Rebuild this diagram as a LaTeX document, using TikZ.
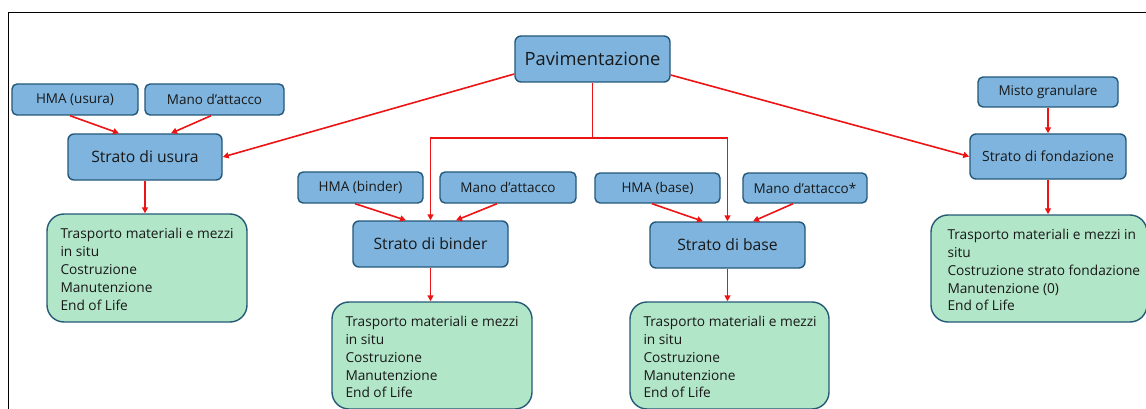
\documentclass[tikz,border=0pt]{standalone}
\usepackage{fontspec}
\setmainfont{Open Sans}
\usetikzlibrary{arrows.meta,calc}
\definecolor{bfill}{RGB}{126,180,222}
\definecolor{bline}{RGB}{36,88,122}
\definecolor{gfill}{RGB}{178,230,200}
\definecolor{gline}{RGB}{36,90,118}
\definecolor{arrred}{RGB}{236,20,20}
\definecolor{txt}{RGB}{25,25,25}
\tikzset{
  bigbox/.style={draw=bline, fill=bfill, line width=1.4pt, rounded corners=6pt, inner sep=0pt, text=txt, font=\fontsize{15.7}{18}\selectfont},
  smallbox/.style={draw=bline, fill=bfill, line width=1.4pt, rounded corners=5pt, inner sep=0pt, text=txt, font=\fontsize{13.5}{16}\selectfont},
  greenbox/.style={draw=gline, fill=gfill, line width=1.4pt, rounded corners=17pt, inner sep=0pt},
  gtext/.style={inner sep=0pt, text=txt, align=left, anchor=west, font=\fontsize{13.7}{17.9}\selectfont},
  arr/.style={draw=arrred, line width=1.6pt, -{Triangle[length=6pt,width=6pt]}},
  lin/.style={draw=arrred, line width=1.6pt}
}
\begin{document}
\begin{tikzpicture}[x=1pt,y=-1pt]
\useasboundingbox (0,0) rectangle (1146,409);
\draw[line width=1.6pt, black] (8.3,412) -- (8.3,12.5) -- (1150,12.5);
% top
\node[bigbox, minimum width=155, minimum height=46, font=\fontsize{18.3}{21}\selectfont] (pav) at (592.5,59) {Pavimentazione};
% usura
\node[smallbox, minimum width=126, minimum height=31] (hmaU) at (75,99.5) {HMA (usura)};
\node[smallbox, minimum width=139, minimum height=31] (manoU) at (214.5,99.5) {Mano d’attacco};
\node[bigbox, minimum width=154, minimum height=46] (su) at (145,157) {Strato di usura};
\node[greenbox, minimum width=200, minimum height=108] (gU) at (147,268) {};
\node[gtext] (tU) at ([xshift=14pt,yshift=-1.5pt]gU.west) {Trasporto materiali e mezzi\\in situ\\Costruzione\\Manutenzione\\End of Life};
% binder
\node[smallbox, minimum width=125, minimum height=31] (hmaB) at (360.5,187.5) {HMA (binder)};
\node[smallbox, minimum width=136, minimum height=31] (manoB) at (508,187.5) {Mano d’attacco};
\node[bigbox, minimum width=155, minimum height=46] (sb) at (430.5,244) {Strato di binder};
\node[greenbox, minimum width=200, minimum height=107] (gB) at (432,355.5) {};
\node[gtext] (tB) at ([xshift=14pt,yshift=-1.5pt]gB.west) {Trasporto materiali e mezzi\\in situ\\Costruzione\\Manutenzione\\End of Life};
% base
\node[smallbox, minimum width=125, minimum height=30] (hmaBa) at (657.5,188) {HMA (base)};
\node[smallbox, minimum width=124, minimum height=30] (manoBa) at (805,188) {Mano d’attacco*};
\node[bigbox, minimum width=155, minimum height=46] (sba) at (727.5,245) {Strato di base};
\node[greenbox, minimum width=199, minimum height=107] (gBa) at (729.5,355.5) {};
\node[gtext] (tBa) at ([xshift=14pt,yshift=-1.5pt]gBa.west) {Trasporto materiali e mezzi\\in situ\\Costruzione\\Manutenzione\\End of Life};
% fondazione
\node[smallbox, minimum width=140, minimum height=30] (misto) at (1048,92) {Misto granulare};
\node[bigbox, minimum width=156, minimum height=45, font=\fontsize{14}{17}\selectfont] (fond) at (1048,156.5) {Strato di fondazione};
\node[greenbox, minimum width=216, minimum height=107] (gF) at (1039,268.5) {};
\node[gtext] (tF) at ([xshift=17pt,yshift=-1.5pt]gF.west) {Trasporto materiali e mezzi in\\situ\\Costruzione strato fondazione\\Manutenzione (0)\\End of Life};
% connectors
\coordinate (J) at (592.5,138);
\draw[lin] (pav.south) -- (J);
\draw[arr] (J) -| (sb.north);
\draw[arr] (J) -| (sba.north);
\draw[arr] ([yshift=-15pt]pav.west) -- (su.east);
\draw[arr] ([yshift=-16pt]pav.east) -- (fond.west);
\draw[arr] ([xshift=-5pt]hmaU.south) -- ([xshift=-26pt]su.north);
\draw[arr] ([xshift=-3.5pt]manoU.south) -- ([xshift=26pt]su.north);
\draw[arr] ([xshift=-5.5pt]hmaB.south) -- ([xshift=-24.5pt]sb.north);
\draw[arr] ([xshift=-11pt]manoB.south) -- ([xshift=25.5pt]sb.north);
\draw[arr] ([xshift=-5.5pt]hmaBa.south) -- ([xshift=-24.5pt]sba.north);
\draw[arr] ([xshift=-12pt]manoBa.south) -- ([xshift=25.5pt]sba.north);
\draw[arr] (misto.south) -- (fond.north);
\draw[arr] (su.south) -- (su.south |- gU.north);
\draw[arr] (sb.south) -- (sb.south |- gB.north);
\draw[arr] (sba.south) -- (sba.south |- gBa.north);
\draw[arr] (fond.south) -- (fond.south |- gF.north);
\end{tikzpicture}
\end{document}
